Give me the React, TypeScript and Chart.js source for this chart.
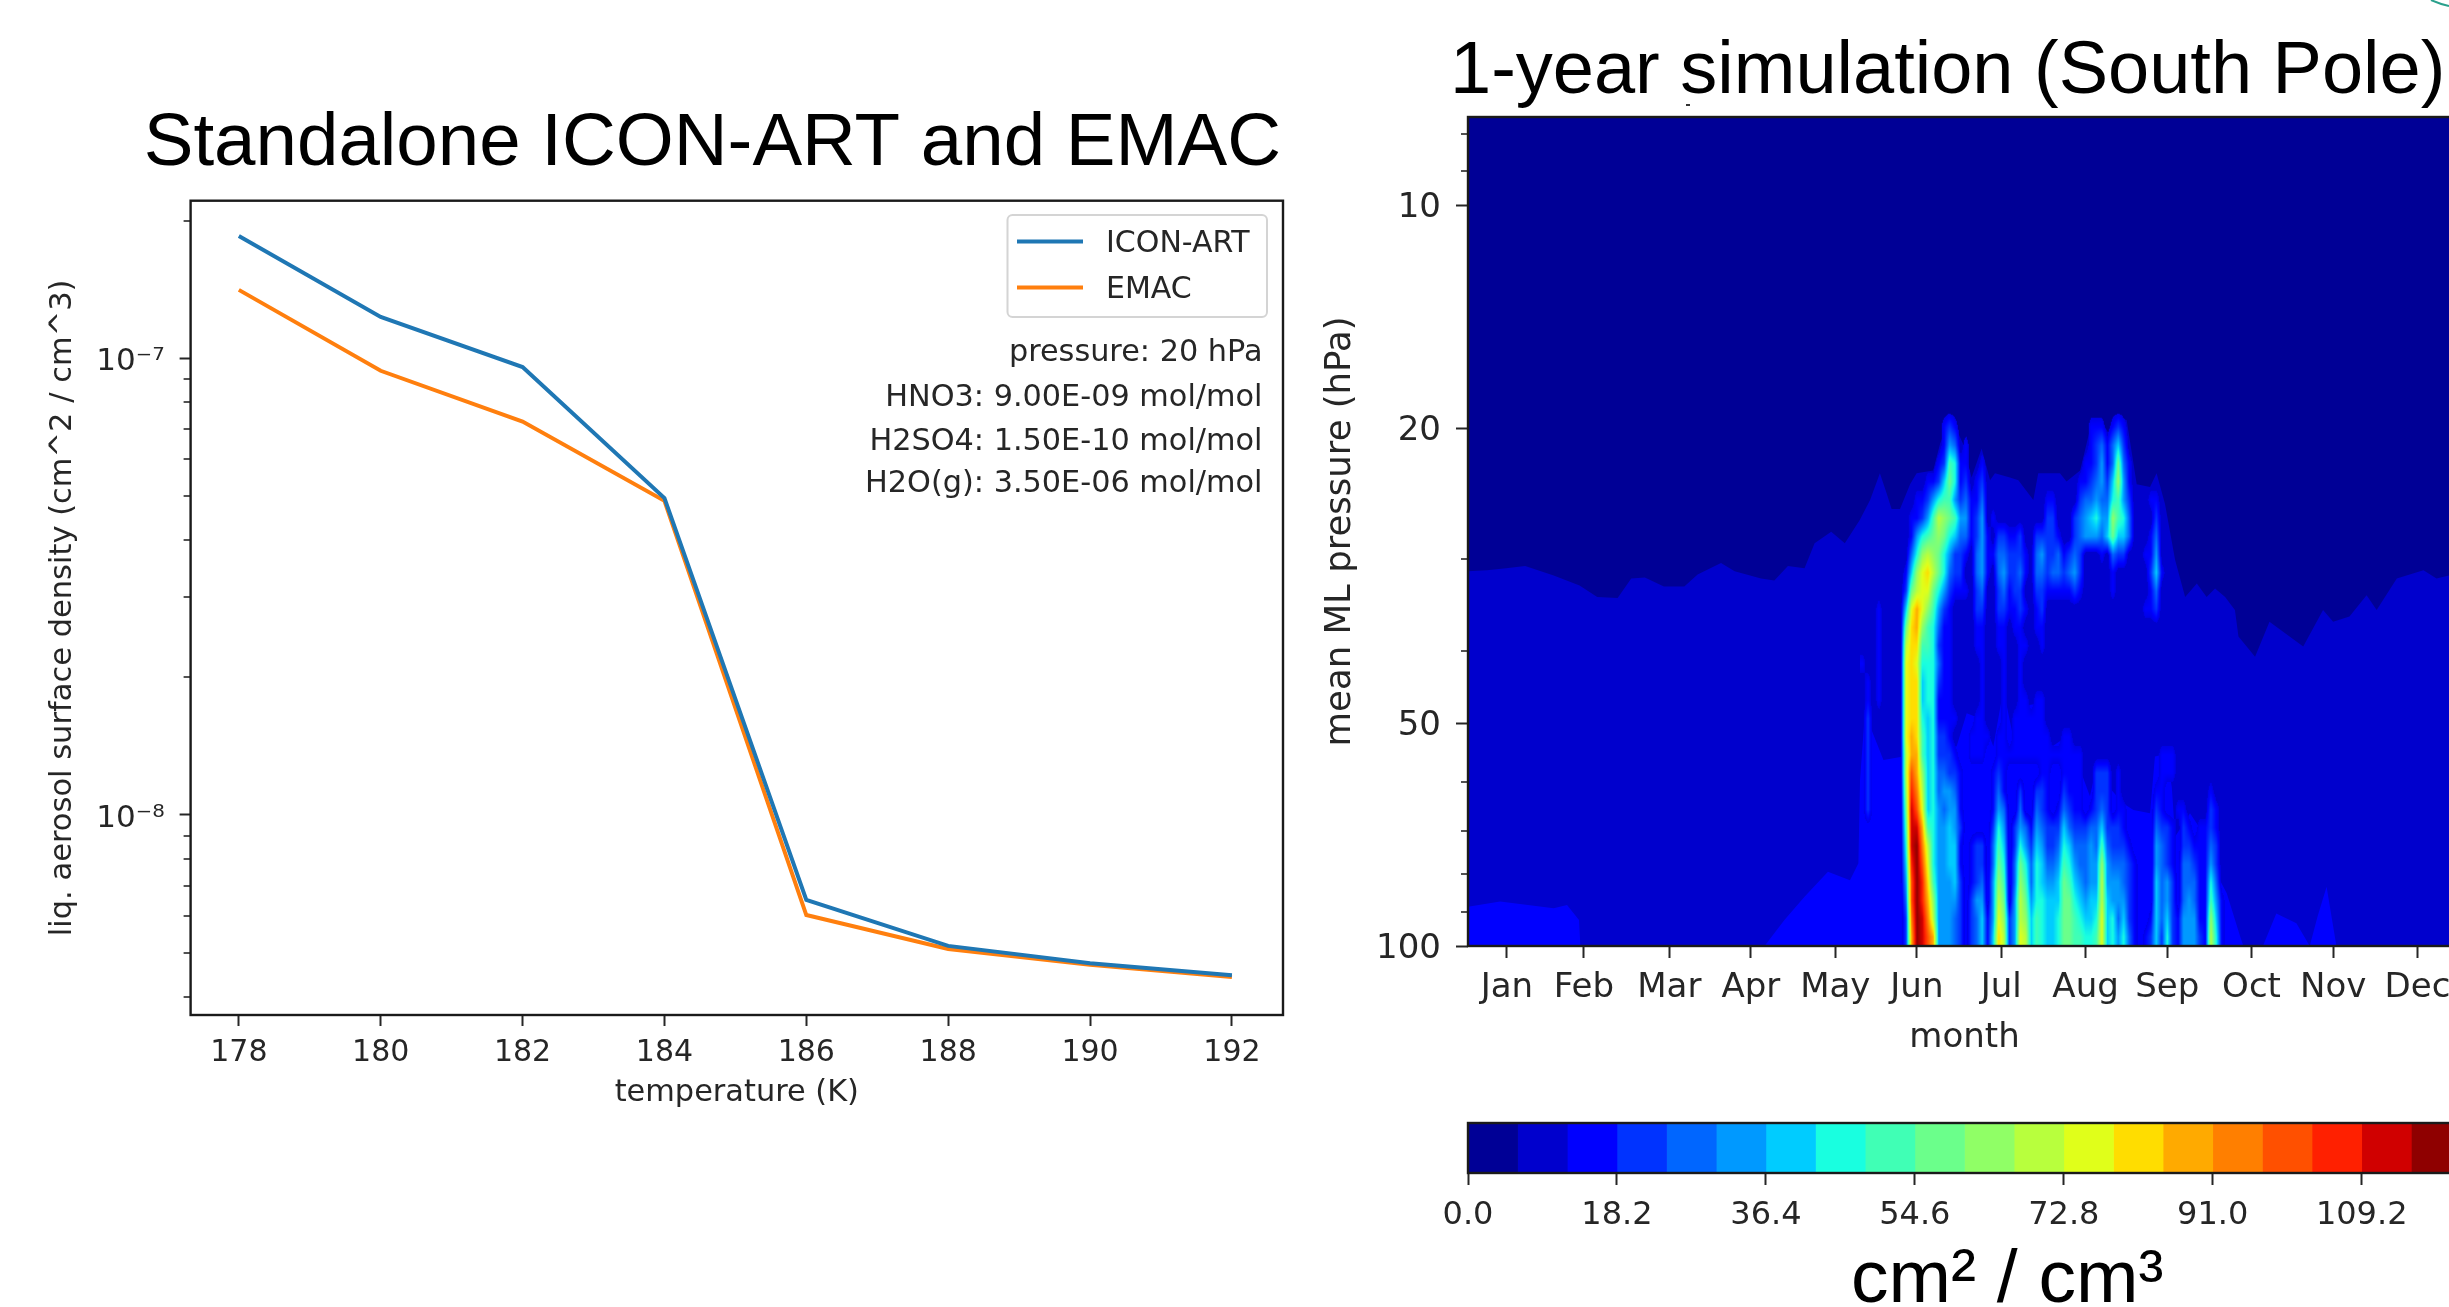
import React, { useEffect, useRef } from "react";
import { Chart, registerables } from "chart.js";

Chart.register(...registerables);

// ---------- left panel ----------
const temperatures = [178, 180, 182, 184, 186, 188, 190, 192];
const iconArt = [1.85e-7, 1.23e-7, 9.56e-8, 4.94e-8, 6.52e-9, 5.17e-9, 4.74e-9, 4.46e-9];
const emac = [1.41e-7, 9.38e-8, 7.26e-8, 4.87e-8, 6.04e-9, 5.09e-9, 4.7e-9, 4.42e-9];
const densityMajorTicks = [1e-8, 1e-7];
const densityMinorTicks = [4e-9, 5e-9, 6e-9, 7e-9, 8e-9, 9e-9, 2e-8, 3e-8, 4e-8, 5e-8, 6e-8, 7e-8, 8e-8, 9e-8, 2e-7];
const infoLines = ["pressure: 20 hPa", "HNO3: 9.00E-09 mol/mol", "H2SO4: 1.50E-10 mol/mol", "H2O(g): 3.50E-06 mol/mol"];

// ---------- right panel ----------
const monthNames = ["Jan", "Feb", "Mar", "Apr", "May", "Jun", "Jul", "Aug", "Sep", "Oct", "Nov", "Dec"];
const monthTickDays = [14.3, 42.6, 74, 104, 135, 165, 196, 227, 257, 288, 318, 349];
const pressureMajorTicks = [10, 20, 50, 100];
const pressureMinorTicks = [8, 9, 30, 40, 60, 70, 80, 90];

const levelColors = [
  "#000096", "#0000cd", "#0000ff", "#0033ff", "#0066ff", "#0099ff", "#00ccff", "#19ffe0", "#40ffb5", "#6bff8b",
  "#90ff66", "#b8ff3d", "#e0ff1a", "#ffdd00", "#ffaa00", "#ff7f00", "#ff5000", "#ff2000", "#d00000", "#8f0000",
];
const colorbarTicks = [0, 18.2, 36.4, 54.6, 72.8, 91.0, 109.2];
const colorbarLevelWidth = 6.0667;

// top of the level-1 area (boundary with the dark level-0 area)
const level1Days = [0, 7, 14, 21, 31.5, 41, 47.5, 55, 60, 65, 72, 79.5, 84.4, 93, 98, 107.7, 112.6, 117.6, 123.7, 127.4, 133.5, 138.5, 144, 147.8, 151.4, 153.9, 155.7, 158.8, 162.5, 164.9, 171, 173.5, 177.2, 179.6, 182, 185.1, 188.8, 191.9, 193.7, 199.2, 202.3, 207.8, 209.6, 217.6, 220, 225, 228.6, 232.3, 235.4, 237.2, 242.1, 245.8, 250.7, 253.1, 256.2, 259.9, 263.6, 267.9, 271.5, 274.6, 278.3, 281.9, 283.2, 289.3, 294.6, 307, 314.3, 318, 324, 330.3, 334, 341.4, 351.2, 356, 360.6, 365];
const level1Pressure = [31.2, 31.1, 30.9, 30.7, 31.6, 32.6, 33.8, 33.9, 31.9, 31.8, 32.7, 32.7, 31.5, 30.4, 31.2, 31.9, 32.1, 30.7, 30.9, 28.6, 27.6, 28.6, 26.6, 25.0, 23.0, 24.5, 25.7, 25.7, 23.8, 23.0, 22.8, 21.0, 19.3, 20.1, 21.0, 23.3, 21.3, 23.5, 23.0, 23.3, 23.5, 25.0, 23.0, 23.0, 23.6, 22.8, 20.1, 19.4, 20.3, 19.3, 19.5, 23.8, 24.0, 23.0, 25.3, 30.1, 33.8, 32.4, 33.8, 32.9, 33.8, 35.2, 38.2, 40.7, 36.5, 39.4, 35.2, 36.5, 35.9, 33.6, 35.2, 31.9, 31.1, 31.9, 31.6, 31.3];

// top of the level-2 area
const level2Days = [0, 11.8, 31.5, 36.4, 40.8, 41.3, 109, 116.3, 123.7, 132.3, 140.4, 143.5, 144.1, 145.9, 152.7, 160, 172.3, 179.6, 183.3, 189.4, 193.1, 196.8, 200.4, 202.9, 210.9, 212.7, 218.2, 223.7, 228.6, 230.5, 234.1, 236.6, 240.9, 244.6, 250.7, 252.5, 256.8, 258.7, 259.9, 265.4, 270.3, 272.1, 275.2, 276.4, 278.9, 283.8, 285, 292.2, 297.1, 304.5, 309.4, 312.3, 315.6, 319.2, 365];
const level2Pressure = [88.5, 87.1, 88.9, 88.0, 92.2, 100, 100, 92.2, 85.8, 79.4, 81.5, 77.3, 59.7, 48.5, 56.1, 55.5, 52.7, 53.8, 48.5, 49.5, 53.8, 45.1, 52.2, 47.5, 47.0, 54.4, 52.7, 56.1, 62.8, 58.5, 57.9, 61.6, 64.2, 65.5, 66.2, 55.5, 55.0, 61, 71.2, 66.2, 70.5, 64.2, 64.2, 81.5, 84.9, 97, 100, 100, 90.4, 93.2, 100, 91.2, 83.2, 100, 100];

// colour level of each cell, days 144-280 in steps of 2, pressure 18.3-100 in 30 equal log steps
const plumeFirstDay = 144;
const plumeLastDay = 280;
const plumeTopPressure = 18.3;
const plumeBottomPressure = 100;
const plumeColumns = 68;
const plumeLevels = [
  [0],
  [0,0,0,0,0,0,0,0,0,0, 0,0,0,0,0,2,3,2,0,0, 0,0,0,0,0,0,0,0,0,0, 0,0,0,0,0,0,0,0,0,0, 0,0,2,2,2,0,2,3,2,0],
  [0,0,0,0,0,0,0,0,0,0, 0,0,0,0,0,2,5,4,0,2, 0,0,0,0,0,0,0,0,0,0, 0,0,0,0,0,0,0,0,0,0, 0,0,2,3,4,2,4,6,3,0],
  [0,0,0,0,0,0,0,0,0,0, 0,0,0,0,2,3,8,7,2,2, 0,0,2,0,0,0,0,0,0,0, 0,0,0,0,0,0,0,0,0,0, 0,2,2,3,5,2,4,9,4,2],
  [0,0,0,0,0,0,0,0,0,0, 0,0,2,2,3,6,9,7,2,3, 0,2,3,0,0,0,0,0,0,0, 0,0,0,0,0,0,0,0,0,0, 2,2,3,4,5,3,6,10,5,2],
  [0,0,0,0,0,0,0,0,0,0, 2,2,3,5,7,8,8,5,3,4, 2,2,4,0,0,0,0,0,0,0, 0,0,0,0,2,2,0,0,0,0, 3,4,4,5,4,4,7,8,5,3, 0,0,0,2,2],
  [0,0,0,0,0,0,0,0,0,2, 2,3,5,8,11,10,9,8,5,5, 2,3,5,0,2,0,0,0,0,0, 0,0,0,0,3,3,0,0,0,3, 4,5,6,7,5,5,10,8,7,4, 0,0,0,0,3],
  [0,0,0,0,0,0,0,0,0,2, 5,7,8,9,10,9,7,6,4,4, 2,3,5,2,0,3,3,2,2,3, 0,0,3,3,3,3,2,0,0,3, 4,5,5,5,4,6,9,6,6,4, 0,0,0,2,4],
  [0,0,0,0,0,0,0,0,0,4, 7,10,11,10,9,7,5,3,3,2, 0,4,5,2,2,4,4,3,3,3, 2,0,4,5,3,3,4,2,3,4, 3,0,0,0,2,0,4,3,3,0, 0,0,2,2,5],
  [0,0,0,0,0,0,0,0,2,6, 10,12,13,11,9,7,4,3,3,0, 0,4,5,2,0,4,5,3,3,4, 2,0,4,4,3,4,4,3,4,5, 3,0,0,0,0,0,2,0,0,0, 0,0,0,3,6,2],
  [0,0,0,0,0,0,0,0,3,9, 11,12,12,9,7,5,3,2,2,2, 0,3,4,0,0,3,4,2,3,3, 0,0,3,3,2,2,2,2,2,3, 2,0,0,0,0,0,2,0,0,0, 0,0,0,2,4],
  [0,0,0,2,0,0,0,0,6,12, 14,12,10,8,5,3,2,0,0,0, 0,3,3,0,0,3,3,2,2,3, 2,0,2,3,0,0,0,0,0,0, 0,0,0,0,0,0,0,0,0,0, 0,0,2,2,3],
  [0,0,0,2,0,0,0,0,9,13, 14,10,8,7,4,2,2,0,0,0, 0,2,2,0,0,2,2,0,2,2, 0,0,2,2],
  [0,0,0,2,0,0,0,0,11,13, 13,8,8,7,3,2,2,0,0,0, 0,2,2,0,0,2,2,0,0,2, 2,0,0,2],
  [2,0,0,2,0,0,0,0,12,13, 12,7,7,7,4,2,2,0,0,0, 0,0,2,0,0,0,2,0,0,2],
  [0,2,0,2,0,0,0,0,12,13, 13,6,7,7,3,2,2,0,0,0, 0,0,2,0,0,0,2,0,0,2],
  [0,2,0,2,0,0,0,0,12,13, 13,6,7,7,2,2,2,0,0,0, 0,0,2,0,0,0,2,0,0,2, 2,0,2,2],
  [0,3,0,0,0,0,0,0,12,13, 13,7,6,7,2,2,2,2,0,0, 0,2,2,0,0,0,2,0,2,2, 2,2,2,2],
  [0,3,0,0,0,0,0,0,12,14, 13,8,6,7,3,3,2,0,0,0, 2,2,2,2,0,2,2,0,2,2, 2,2,2,2,2,0,0,2,2],
  [0,3,0,0,0,0,0,0,11,14, 14,8,6,7,3,3,3,2,0,0, 2,2,2,0,0,2,2,2,2,2, 2,2,2,2,2,2,2,2,2,2, 2,0,0,0,0,0,0,0,0,0, 0,0,0,0,0,2,2,2],
  [0,3,0,0,0,0,0,0,11,16, 14,10,6,7,4,4,3,3,2,0, 0,0,0,0,2,3,2,0,0,0, 0,0,0,2,2,0,0,2,2,2, 2,0,0,3,3,3,0,2,0,0, 0,0,0,0,0,2,2,2],
  [0,3,0,0,0,0,0,0,10,17, 15,11,6,7,4,5,5,4,2,0, 0,0,0,0,2,4,2,0,0,3, 0,0,3,3,2,0,0,3,2,2, 2,0,0,3,3,3,0,2,0,0, 0,0,0,0,2,2,0,0,0,0, 0,0,0,0,2],
  [0,3,0,0,0,0,0,0,9,18, 16,12,6,7,5,4,5,5,2,0, 0,0,0,0,2,5,4,0,0,4, 0,0,4,3,2,0,2,4,3,2, 2,0,2,3,4,3,0,2,2,0, 0,0,0,0,3,2,0,0,2,2, 0,0,0,0,3,2],
  [0,0,0,0,0,0,0,0,8,18, 18,14,8,7,5,5,6,5,3,0, 0,0,0,0,3,7,5,0,3,5, 4,2,5,4,3,3,3,6,4,3, 3,3,4,4,6,3,3,3,2,0, 0,0,0,0,4,3,3,2,0,3, 2,0,2,2,3,2],
  [0,0,0,0,0,0,0,0,7,18, 19,15,11,7,5,5,6,6,2,0, 2,3,3,0,4,8,6,0,3,7, 5,3,6,5,3,3,4,7,6,4, 4,4,5,4,8,4,3,3,3,2, 0,0,0,0,5,4,3,2,0,3, 3,2,2,2,4,3],
  [0,0,0,0,0,0,0,0,6,17, 19,16,12,7,5,5,6,6,2,0, 2,3,3,0,4,9,7,0,4,9, 7,4,7,6,4,4,5,8,7,5, 4,4,5,5,10,5,4,4,4,3, 2,0,0,0,5,4,3,2,0,4, 4,3,2,2,5,3],
  [0,0,0,0,0,0,0,0,5,16, 19,17,13,8,5,5,5,6,3,0, 2,3,4,0,5,10,8,0,4,10, 8,4,7,6,5,5,6,9,8,6, 5,4,5,5,11,5,5,5,4,3, 2,0,0,0,6,4,5,3,0,4, 4,4,2,2,7,4],
  [0,0,0,0,0,0,0,0,4,16, 19,17,14,10,5,5,5,5,3,0, 3,5,5,0,5,11,9,0,5,11, 9,5,7,7,6,6,6,9,9,7, 6,5,6,6,11,6,5,5,5,3, 2,0,0,0,6,4,5,3,0,4, 5,4,2,2,8,5,2],
  [0,0,0,0,0,0,0,0,3,15, 19,18,15,11,5,5,5,4,3,0, 3,4,6,2,5,12,10,3,5,11, 10,6,8,7,6,6,7,9,9,8, 7,6,6,7,12,6,7,4,6,3, 2,0,0,2,6,4,6,3,2,5, 5,5,2,2,10,6,2],
  [0,0,0,0,0,0,0,0,3,14, 19,18,16,14,5,5,5,4,3,0, 3,4,6,2,6,13,11,3,5,12, 11,6,8,7,6,6,7,9,9,8, 8,7,7,8,12,6,7,5,7,4, 2,0,2,3,6,3,7,3,2,5, 5,5,3,2,11,7,2],
];

const MPL = "'DejaVu Sans', sans-serif";
const ARIAL = "'Liberation Sans', Arial, sans-serif";
const INK = "#262626";

const hexRgb = (h: string) => [parseInt(h.slice(1, 3), 16), parseInt(h.slice(3, 5), 16), parseInt(h.slice(5, 7), 16)];

const framePlugin = {
  id: "frame",
  afterDraw(chart: any) {
    const { ctx, chartArea: a } = chart;
    ctx.save();
    ctx.strokeStyle = "#1a1a1a";
    ctx.lineWidth = 2.4;
    ctx.strokeRect(a.left, a.top, a.right - a.left, a.bottom - a.top);
    ctx.restore();
  },
};

const minorTicksPlugin = (values: number[]) => ({
  id: "minorTicks",
  afterDraw(chart: any) {
    const { ctx, chartArea: a, scales } = chart;
    ctx.save();
    ctx.strokeStyle = INK;
    ctx.lineWidth = 1.6;
    values.forEach((v) => {
      const y = Math.round(scales.y.getPixelForValue(v));
      ctx.beginPath();
      ctx.moveTo(a.left, y);
      ctx.lineTo(a.left - 7, y);
      ctx.stroke();
    });
    ctx.restore();
  },
});

const titleStartPlugin = (left: number) => ({
  id: "titleStart",
  beforeDraw(chart: any) {
    if (chart.titleBlock) {
      chart.titleBlock.left = left;
      chart.titleBlock.right = chart.width + 40;
    }
  },
});

const legendPlugin = {
  id: "innerLegend",
  afterDatasetsDraw(chart: any) {
    const { ctx } = chart;
    ctx.save();
    ctx.beginPath();
    ctx.roundRect(1007.5, 215, 259.5, 102, 5);
    ctx.fillStyle = "rgba(255,255,255,0.8)";
    ctx.fill();
    ctx.strokeStyle = "#d4d4d4";
    ctx.lineWidth = 2;
    ctx.stroke();
    ctx.font = `30px ${MPL}`;
    ctx.textBaseline = "middle";
    chart.data.datasets.forEach((d: any, i: number) => {
      const y = 241.5 + i * 46;
      ctx.strokeStyle = d.borderColor;
      ctx.lineWidth = 4;
      ctx.beginPath();
      ctx.moveTo(1017, y);
      ctx.lineTo(1083, y);
      ctx.stroke();
      ctx.fillStyle = INK;
      ctx.textAlign = "left";
      ctx.fillText(d.label, 1106, y + 2.5);
    });
    ctx.textAlign = "right";
    ctx.fillStyle = INK;
    const ys = [353, 398, 442, 484];
    ctx.font = `30.3px ${MPL}`;
    infoLines.forEach((t, i) => ctx.fillText(t, 1262.5, ys[i]));
    ctx.restore();
  },
};

const plotBackgroundPlugin = {
  id: "plotBackground",
  beforeDatasetsDraw(chart: any) {
    const { ctx, chartArea: a } = chart;
    ctx.save();
    ctx.fillStyle = levelColors[0];
    ctx.fillRect(a.left, a.top, a.right - a.left, a.bottom - a.top);
    ctx.restore();
  },
};

const plumePlugin = {
  id: "plumeCells",
  afterDatasetsDraw(chart: any) {
    const { ctx, chartArea: a, scales } = chart;
    const x0 = scales.x.getPixelForValue(plumeFirstDay);
    const x1 = scales.x.getPixelForValue(plumeLastDay);
    const y0 = scales.y.getPixelForValue(plumeTopPressure);
    const y1 = scales.y.getPixelForValue(plumeBottomPressure);
    const w = Math.max(1, Math.round(x1 - x0));
    const h = Math.max(1, Math.round(y1 - y0));
    const off = document.createElement("canvas");
    off.width = w;
    off.height = h;
    const oc = off.getContext("2d")!;
    const img = oc.createImageData(w, h);
    const rgb = levelColors.map(hexRgb);
    const nr = plumeLevels.length;
    const nc = plumeColumns;
    const at = (r: number, c: number) => {
      const rr = Math.min(nr - 1, Math.max(0, r));
      const cc = Math.min(nc - 1, Math.max(0, c));
      return Math.max(1, plumeLevels[rr][cc] ?? 0);
    };
    for (let py = 0; py < h; py++) {
      const v = ((py + 0.5) / h) * nr - 0.5;
      const r0 = Math.floor(v);
      const fv = v - r0;
      for (let px = 0; px < w; px++) {
        const u = ((px + 0.5) / w) * nc - 0.5;
        const c0 = Math.floor(u);
        const fu = u - c0;
        const lvl =
          at(r0, c0) * (1 - fu) * (1 - fv) +
          at(r0, c0 + 1) * fu * (1 - fv) +
          at(r0 + 1, c0) * (1 - fu) * fv +
          at(r0 + 1, c0 + 1) * fu * fv;
        if (lvl < 1.5) continue;
        const lo = Math.floor(lvl);
        const hi = Math.min(19, lo + 1);
        const f = lvl - lo;
        const k = (py * w + px) * 4;
        img.data[k] = rgb[lo][0] * (1 - f) + rgb[hi][0] * f;
        img.data[k + 1] = rgb[lo][1] * (1 - f) + rgb[hi][1] * f;
        img.data[k + 2] = rgb[lo][2] * (1 - f) + rgb[hi][2] * f;
        img.data[k + 3] = 255;
      }
    }
    oc.putImageData(img, 0, 0);
    ctx.save();
    ctx.beginPath();
    ctx.rect(a.left, a.top, a.right - a.left, a.bottom - a.top);
    ctx.clip();
    ctx.drawImage(off, x0, y0, x1 - x0, y1 - y0);
    ctx.restore();
  },
};

const sharedPlugins = { legend: { display: false }, tooltip: { enabled: false } };

const xy = (xs: number[], ys: number[]) => xs.map((x, i) => ({ x, y: ys[i] }));

function useChart(factory: (canvas: HTMLCanvasElement) => Chart) {
  const ref = useRef<HTMLCanvasElement | null>(null);
  useEffect(() => {
    const chart = factory(ref.current!);
    return () => chart.destroy();
  }, []);
  return ref;
}

function makeLeft(canvas: HTMLCanvasElement) {
  return new Chart(canvas, {
    type: "line",
    data: {
      datasets: [
        { label: "ICON-ART", data: xy(temperatures, iconArt), borderColor: "#1f77b4", borderWidth: 4, pointRadius: 0, tension: 0 },
        { label: "EMAC", data: xy(temperatures, emac), borderColor: "#ff7f0e", borderWidth: 4, pointRadius: 0, tension: 0 },
      ],
    },
    options: {
      responsive: false,
      animation: false,
      devicePixelRatio: 1,
      layout: { padding: { top: 107, right: 37, left: 0, bottom: 0 } },
      plugins: {
        ...sharedPlugins,
        title: {
          display: true,
          text: "Standalone ICON-ART and EMAC",
          align: "start",
          color: "#000",
          font: { family: ARIAL, size: 74.5, weight: "normal", lineHeight: 1 },
          padding: { top: 0, bottom: 19.2 },
        },
      },
      scales: {
        x: {
          type: "linear",
          min: 177.32,
          max: 192.72,
          afterBuildTicks: (s: any) => { s.ticks = temperatures.map((value) => ({ value })); },
          afterFit: (s: any) => { s.height = 115; },
          grid: { display: true, drawOnChartArea: false, tickLength: 11, tickWidth: 2, tickColor: INK },
          border: { display: false },
          ticks: { color: INK, font: { family: MPL, size: 30 }, padding: 9, autoSkip: false, maxRotation: 0 },
          title: { display: true, text: "temperature (K)", color: INK, font: { family: MPL, size: 30.4 }, padding: { top: 0, bottom: 19 } },
        },
        y: {
          type: "logarithmic",
          bounds: "data",
          min: 3.65e-9,
          max: 2.21e-7,
          afterBuildTicks: (s: any) => { s.ticks = densityMajorTicks.map((value) => ({ value })); },
          afterFit: (s: any) => { s.width = 190.6; },
          grid: { display: true, drawOnChartArea: false, tickLength: 11, tickWidth: 2, tickColor: INK },
          border: { display: false },
          ticks: {
            color: INK,
            font: { family: MPL, size: 31 },
            padding: 15,
            labelOffset: 4,
            autoSkip: false,
            callback: (v: any) => (v < 5e-8 ? "10\u207B\u2078" : "10\u207B\u2077"),
          },
          title: { display: true, text: "liq. aerosol surface density (cm^2 / cm^3)", color: INK, font: { family: MPL, size: 30.5 }, padding: { top: 45, bottom: 0 } },
        },
      },
    },
    plugins: [titleStartPlugin(143.7), minorTicksPlugin(densityMinorTicks), framePlugin, legendPlugin],
  } as any);
}

function makeRight(canvas: HTMLCanvasElement) {
  return new Chart(canvas, {
    type: "line",
    data: {
      datasets: [
        { label: "level 2", data: xy(level2Days, level2Pressure), backgroundColor: levelColors[2], borderWidth: 0, pointRadius: 0, tension: 0, fill: { value: 100 } },
        { label: "level 1", data: xy(level1Days, level1Pressure), backgroundColor: levelColors[1], borderWidth: 0, pointRadius: 0, tension: 0, fill: { value: 100 } },
      ],
    },
    options: {
      responsive: false,
      animation: false,
      devicePixelRatio: 1,
      layout: { padding: { top: 36, right: 39, left: 0, bottom: 0 } },
      plugins: {
        ...sharedPlugins,
        title: {
          display: true,
          text: "1-year simulation (South Pole)",
          align: "start",
          color: "#000",
          font: { family: ARIAL, size: 74, weight: "normal", lineHeight: 1 },
          padding: { top: 0, bottom: 7 },
        },
      },
      scales: {
        x: {
          type: "linear",
          min: 0,
          max: 365,
          afterBuildTicks: (s: any) => { s.ticks = monthTickDays.map((value) => ({ value })); },
          afterFit: (s: any) => { s.height = 154; },
          grid: { display: true, drawOnChartArea: false, tickLength: 12, tickWidth: 2, tickColor: INK },
          border: { display: false },
          ticks: { color: INK, font: { family: MPL, size: 34 }, padding: 10, autoSkip: false, maxRotation: 0, callback: (_: any, i: number) => monthNames[i] },
          title: { display: true, text: "month", color: INK, font: { family: MPL, size: 34 }, padding: { top: 0, bottom: 41 } },
        },
        y: {
          type: "logarithmic",
          bounds: "data",
          reverse: true,
          min: 7.6,
          max: 100,
          afterBuildTicks: (s: any) => { s.ticks = pressureMajorTicks.map((value) => ({ value })); },
          afterFit: (s: any) => { s.width = 168; },
          grid: { display: true, drawOnChartArea: false, tickLength: 12, tickWidth: 2, tickColor: INK },
          border: { display: false },
          ticks: { color: INK, font: { family: MPL, size: 34 }, padding: 15, labelOffset: 3, autoSkip: false, callback: (v: any) => String(v) },
          title: { display: true, text: "mean ML pressure (hPa)", color: INK, font: { family: MPL, size: 35.5 }, padding: { top: 19, bottom: 0 } },
        },
      },
    },
    plugins: [plotBackgroundPlugin, plumePlugin, titleStartPlugin(150), minorTicksPlugin(pressureMinorTicks), framePlugin],
  } as any);
}

function makeColorbar(canvas: HTMLCanvasElement) {
  return new Chart(canvas, {
    type: "bar",
    data: {
      labels: ["colorbar"],
      datasets: levelColors.map((c, i) => ({
        label: `level ${i}`,
        data: [colorbarLevelWidth],
        backgroundColor: c,
        borderWidth: 0,
        barPercentage: 1,
        categoryPercentage: 1,
      })),
    },
    options: {
      indexAxis: "y",
      responsive: false,
      animation: false,
      devicePixelRatio: 1,
      layout: { padding: { top: 23, right: 39, left: 168, bottom: 41 } },
      plugins: {
        ...sharedPlugins,
        title: {
          display: true,
          text: "cm\u00B2 / cm\u00B3",
          position: "bottom",
          align: "start",
          color: "#000",
          font: { family: ARIAL, size: 75, weight: "normal", lineHeight: 1 },
          padding: 0,
        },
      },
      scales: {
        x: {
          type: "linear",
          stacked: true,
          min: 0,
          max: colorbarLevelWidth * levelColors.length,
          afterBuildTicks: (s: any) => { s.ticks = colorbarTicks.map((value) => ({ value })); },
          afterFit: (s: any) => { s.height = 71; },
          grid: { display: true, drawOnChartArea: false, tickLength: 12, tickWidth: 2, tickColor: INK },
          border: { display: false },
          ticks: { color: INK, font: { family: MPL, size: 32 }, padding: 11, autoSkip: false, maxRotation: 0, callback: (v: any) => Number(v).toFixed(1) },
        },
        y: { type: "category", stacked: true, display: false },
      },
    },
    plugins: [titleStartPlugin(551), framePlugin],
  } as any);
}

export default function App() {
  const leftRef = useChart(makeLeft);
  const rightRef = useChart(makeRight);
  const barRef = useChart(makeColorbar);
  const soft = { position: "absolute", filter: "blur(0.6px)" } as const;
  return (
    <div style={{ position: "fixed", left: 0, top: 0, width: 2449, height: 1307, overflow: "hidden", background: "#fff" }}>
      <canvas ref={leftRef} width={1320} height={1130} style={{ ...soft, left: 0, top: 0 }} />
      <canvas ref={rightRef} width={1200} height={1100} style={{ ...soft, left: 1300, top: 0 }} />
      <canvas ref={barRef} width={1200} height={260} style={{ ...soft, left: 1300, top: 1100 }} />
      <svg width={2449} height={1307} style={{ position: "absolute", left: 0, top: 0, pointerEvents: "none" }}>
        <path d="M2431 0 Q2440 4 2449 6" stroke="#2aa08c" strokeWidth={2} fill="none" />
        <rect x={1686} y={104} width={4} height={2} fill="#333" />
      </svg>
    </div>
  );
}
